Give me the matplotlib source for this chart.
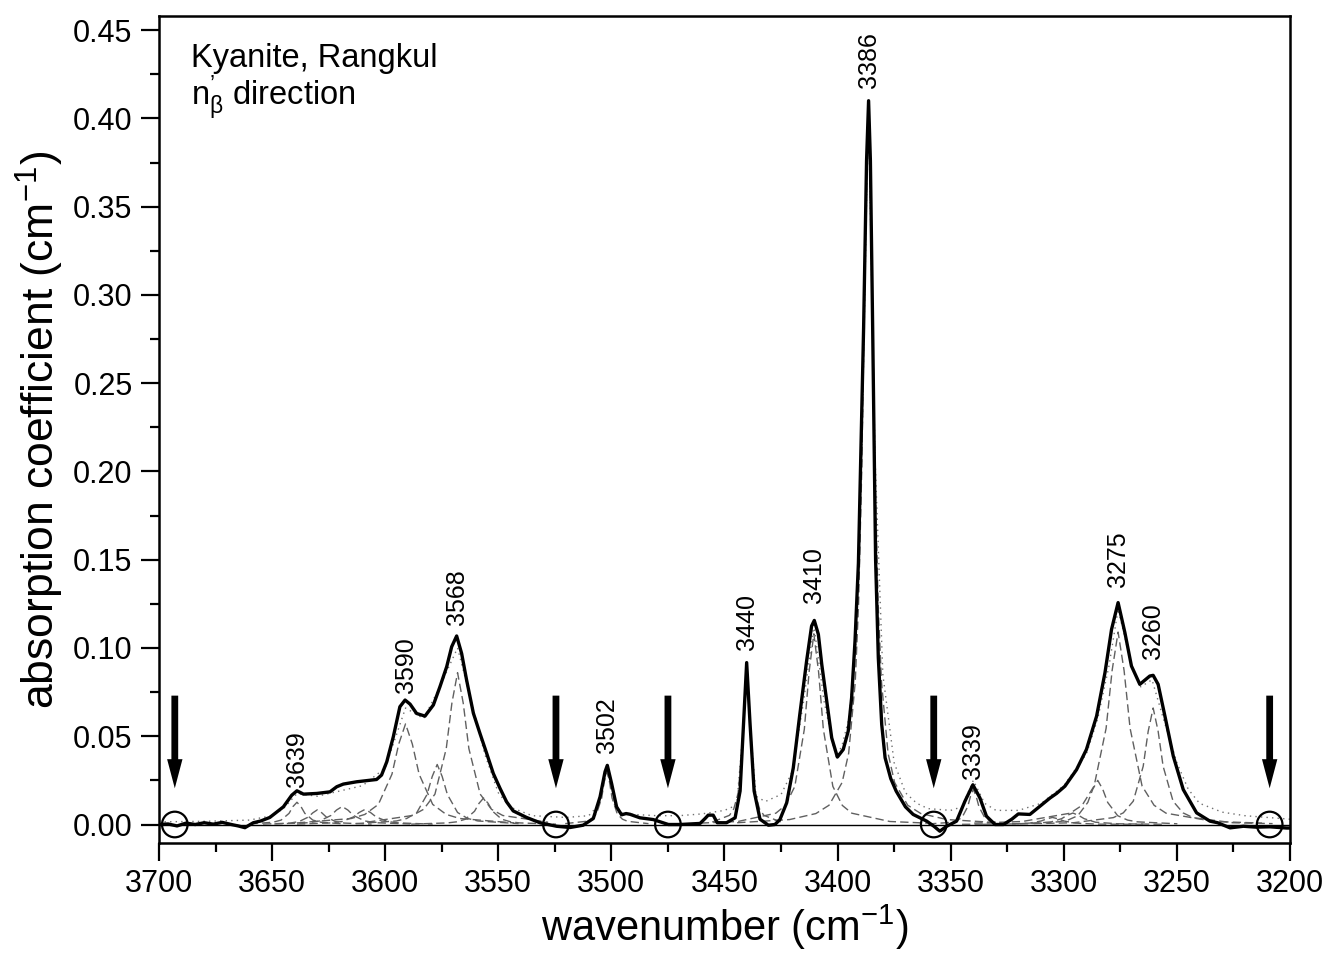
import matplotlib
matplotlib.use("Agg")
import matplotlib.pyplot as plt
from matplotlib.patches import FancyArrow
from matplotlib.ticker import MultipleLocator, FormatStrFormatter

plt.rcParams['font.family'] = ['Liberation Sans', 'DejaVu Sans']
plt.rcParams['mathtext.fontset'] = 'custom'
plt.rcParams['mathtext.rm'] = 'Liberation Sans'
plt.rcParams['mathtext.it'] = 'Liberation Sans:italic'
plt.rcParams['mathtext.bf'] = 'Liberation Sans:bold'

spectrum = [
    (3700, 0.000), (3696, 0.0003), (3692, -0.0008), (3688, 0.0008), (3684, 0.0000),
    (3680, 0.0010), (3676, 0.0002), (3672, 0.0012), (3668, 0.0000), (3665, -0.0008),
    (3662, -0.0018), (3658.3, 0.0010), (3655, 0.0020), (3651, 0.0040), (3648, 0.0070),
    (3645, 0.0100), (3641.3, 0.0166), (3639, 0.0191), (3636.1, 0.0172), (3630.2, 0.0176),
    (3624.4, 0.0185), (3621.4, 0.0214), (3618.5, 0.0229), (3612.6, 0.0242), (3603.8, 0.0255),
    (3601.6, 0.0280), (3599.3, 0.0355), (3596.4, 0.0497), (3593.5, 0.0667), (3591.2, 0.0705),
    (3589, 0.0682), (3586.1, 0.0629), (3582.4, 0.0614), (3578.7, 0.0677), (3575.8, 0.0780),
    (3572.8, 0.0894), (3570.6, 0.1007), (3568.4, 0.1068), (3566.2, 0.0969), (3564.0, 0.0818),
    (3561, 0.0630), (3558.1, 0.0516), (3555.1, 0.0402), (3552.2, 0.0289), (3549.2, 0.0204),
    (3546.3, 0.0128), (3543.4, 0.0077), (3537.5, 0.0040), (3531.6, 0.0010), (3524.2, -0.0010),
    (3518.3, -0.0017), (3512.5, -0.0004), (3508, 0.0034), (3505, 0.0157), (3502.8, 0.0299),
    (3501.8, 0.0335), (3499.9, 0.0232), (3497.7, 0.0100), (3495.5, 0.0055), (3493.5, 0.0062),
    (3491.8, 0.0058), (3487.4, 0.0038), (3481.5, 0.0028), (3474.8, 0.0000), (3469.7, 0.0000),
    (3460.8, 0.0006), (3458.5, 0.0035), (3457.2, 0.0053), (3455, 0.0053), (3453.2, 0.0010),
    (3449.1, 0.0010), (3445.3, 0.0038), (3443.1, 0.0190), (3441.6, 0.0570), (3440.2, 0.0917),
    (3438.7, 0.0570), (3436.9, 0.0190), (3434.3, 0.0030), (3430.6, -0.0004), (3427.7, 0.0000),
    (3425.5, 0.0028), (3422.5, 0.0123), (3419.6, 0.0320), (3416.7, 0.0624), (3413.7, 0.0926),
    (3411.5, 0.1124), (3410.3, 0.1156), (3408.5, 0.1077), (3407, 0.0907), (3404.8, 0.0699),
    (3402.6, 0.0491), (3400.1, 0.0382), (3397.5, 0.0425), (3395.3, 0.0529), (3393.8, 0.0718),
    (3392.3, 0.1040), (3390.8, 0.1480), (3388.5, 0.2815), (3387.2, 0.3760), (3386.3, 0.4100),
    (3385.5, 0.3760), (3384.5, 0.2815), (3383.2, 0.1500), (3382, 0.0945), (3380.5, 0.0567),
    (3379, 0.0378), (3376.5, 0.0260), (3374.1, 0.0189), (3370, 0.0100), (3366.6, 0.0057),
    (3360.6, 0.0019), (3357.4, -0.0010), (3354.8, -0.0038), (3351.8, -0.0010), (3347.4, 0.0019),
    (3343.7, 0.0132), (3340.2, 0.0225), (3337.1, 0.0151), (3334.2, 0.0047), (3330.4, 0.0000),
    (3326.7, 0.0000), (3323, 0.0030), (3320.1, 0.0060), (3315, 0.0057), (3310.5, 0.0104),
    (3306.1, 0.0150), (3303.2, 0.0176), (3299.5, 0.0217), (3294.4, 0.0310), (3290, 0.0425),
    (3285.5, 0.0614), (3281.8, 0.0860), (3278.9, 0.1105), (3276, 0.1257), (3273, 0.1087),
    (3270.1, 0.0898), (3266.4, 0.0794), (3262, 0.0841), (3260.5, 0.0845), (3258.3, 0.0794),
    (3255.3, 0.0614), (3251.6, 0.0387), (3247.2, 0.0198), (3241.3, 0.0066), (3235.4, 0.0019),
    (3232, 0.0010), (3226.5, -0.0019), (3220.6, -0.0010), (3215, -0.0015), (3209, -0.0013),
    (3201.5, -0.0020), (3200, -0.0020),
]

# fitted sum (dotted)
fit_sum = [
    (3700, 0.0015), (3680, 0.0018), (3660, 0.0025), (3650, 0.005), (3645, 0.009),
    (3639, 0.0175), (3630, 0.016), (3620, 0.019), (3610, 0.022), (3600, 0.032),
    (3591, 0.066), (3583, 0.060), (3577, 0.075), (3568, 0.100), (3560, 0.060),
    (3556, 0.040), (3550, 0.018), (3545, 0.010), (3535, 0.005), (3520, 0.004),
    (3510, 0.005), (3505, 0.012), (3502, 0.032), (3499, 0.012), (3495, 0.006),
    (3480, 0.005), (3470, 0.005), (3460, 0.006), (3450, 0.008), (3444.6, 0.011),
    (3442, 0.050), (3440.2, 0.090), (3438.3, 0.050), (3436, 0.016), (3432, 0.013),
    (3425, 0.017), (3420, 0.030), (3415, 0.070), (3410.5, 0.113), (3406, 0.070),
    (3402, 0.045), (3400.5, 0.038), (3398, 0.045), (3395, 0.060), (3392, 0.100),
    (3389.3, 0.210), (3386.4, 0.408), (3383.5, 0.210), (3380, 0.085), (3375, 0.035),
    (3370, 0.018), (3365, 0.012), (3360, 0.009), (3350, 0.008), (3345, 0.010),
    (3340, 0.025), (3335, 0.012), (3330, 0.008), (3320, 0.008), (3310, 0.012),
    (3300, 0.022), (3290, 0.040), (3285, 0.060), (3280, 0.090), (3276, 0.122),
    (3270, 0.090), (3266, 0.078), (3261, 0.082), (3256, 0.060), (3250, 0.035),
    (3245, 0.020), (3240, 0.012), (3230, 0.007), (3220, 0.005), (3210, 0.004),
    (3200, 0.003),
]

# fitted components (dashed), read point by point
comp_3639 = [(3660, 0.0003), (3649.5, 0.0013), (3646, 0.0025), (3642.5, 0.0063), (3640.8, 0.0101),
             (3639, 0.0126), (3637.2, 0.0101), (3635.5, 0.0063), (3632, 0.0025), (3628.5, 0.0013), (3618, 0.0003)]
comp_3630 = [(3654, 0.0002), (3642, 0.0008), (3638, 0.0017), (3634, 0.0042), (3632, 0.0066),
             (3630, 0.0083), (3628, 0.0066), (3626, 0.0042), (3622, 0.0017), (3618, 0.0008), (3606, 0.0002)]
comp_3619 = [(3649, 0.0003), (3634, 0.0010), (3629, 0.0020), (3624, 0.0051), (3621.5, 0.0082),
             (3619, 0.0102), (3616.5, 0.0082), (3614, 0.0051), (3609, 0.0020), (3604, 0.0010), (3589, 0.0003)]
comp_3609 = [(3639, 0.0002), (3624, 0.0009), (3619, 0.0017), (3614, 0.0043), (3611.5, 0.0068),
             (3609, 0.0085), (3606.5, 0.0068), (3604, 0.0043), (3599, 0.0017), (3594, 0.0009), (3579, 0.0002)]
comp_3591 = [(3639, 0.0009), (3615, 0.0034), (3609, 0.0057), (3603, 0.0114), (3597, 0.0285), (3594, 0.0456),
             (3591, 0.0570), (3588, 0.0456), (3585, 0.0285), (3579, 0.0114), (3573, 0.0057), (3567, 0.0034), (3543, 0.0009)]
comp_3577 = [(3613, 0.0005), (3595, 0.0020), (3590.5, 0.0034), (3586, 0.0068), (3581.5, 0.0170), (3579.2, 0.0272),
             (3577, 0.0340), (3574.8, 0.0272), (3572.5, 0.0170), (3568, 0.0068), (3563.5, 0.0034), (3559, 0.0020), (3541, 0.0005)]
comp_3568 = [(3608, 0.0013), (3588, 0.0051), (3583, 0.0086), (3578, 0.0172), (3573, 0.0430), (3570.5, 0.0688),
             (3568, 0.0860), (3565.5, 0.0688), (3563, 0.0430), (3558, 0.0172), (3553, 0.0086), (3548, 0.0051), (3528, 0.0013)]
comp_3556 = [(3588.5, 0.0002), (3572.5, 0.0009), (3568.5, 0.0015), (3564.5, 0.0030), (3560.5, 0.0075), (3558.5, 0.0120),
             (3556.5, 0.0150), (3554.5, 0.0120), (3552.5, 0.0075), (3548.5, 0.0030), (3544.5, 0.0015), (3540.5, 0.0009), (3524.5, 0.0002)]
comp_3502 = [(3520.4, 0.0005), (3511.2, 0.0018), (3508.9, 0.0030), (3506.6, 0.0060), (3504.3, 0.0150), (3503.2, 0.0240),
             (3502, 0.0300), (3500.8, 0.0240), (3499.7, 0.0150), (3497.4, 0.0060), (3495.1, 0.0030), (3492.8, 0.0018), (3483.6, 0.0005)]
comp_3440 = [(3455.4, 0.0014), (3447.8, 0.0052), (3445.9, 0.0088), (3444, 0.0176), (3442.1, 0.0440), (3441.2, 0.0704),
             (3440.2, 0.0880), (3439.2, 0.0704), (3438.3, 0.0440), (3436.4, 0.0176), (3434.5, 0.0088), (3432.6, 0.0052), (3425, 0.0014)]
comp_3410 = [(3460.5, 0.0008), (3444.1, 0.0017), (3427.3, 0.0064), (3423.1, 0.0108), (3418.9, 0.0216), (3414.7, 0.0540),
             (3412.6, 0.0864), (3410.5, 0.1080), (3408.4, 0.0864), (3406.3, 0.0540), (3402.1, 0.0216), (3397.9, 0.0108),
             (3393.7, 0.0064), (3376.9, 0.0017), (3360.5, 0.0008)]
comp_3386 = [(3444.4, 0.0010), (3421.2, 0.0028), (3409.6, 0.0062), (3403.8, 0.0109), (3398, 0.0238), (3395.1, 0.0404),
             (3392.2, 0.0808), (3390.75, 0.1240), (3389.3, 0.2020), (3387.85, 0.3230), (3386.4, 0.4040), (3384.95, 0.3230),
             (3383.5, 0.2020), (3382.05, 0.1240), (3380.6, 0.0808), (3377.7, 0.0404), (3374.8, 0.0238), (3369, 0.0109),
             (3363.2, 0.0062), (3351.6, 0.0028), (3328.4, 0.0010)]
comp_3339 = [(3360, 0.0003), (3350, 0.0012), (3347.5, 0.0020), (3345, 0.0040), (3342.5, 0.0100), (3341.25, 0.0160),
             (3340, 0.0200), (3338.75, 0.0160), (3337.5, 0.0100), (3335, 0.0040), (3332.5, 0.0020), (3330, 0.0012), (3320, 0.0003)]
comp_3305 = [(3345, 0.0001), (3325, 0.0002), (3315, 0.0008), (3310, 0.0020), (3307.5, 0.0032),
             (3305, 0.0040), (3302.5, 0.0032), (3300, 0.0020), (3295, 0.0008), (3285, 0.0002), (3265, 0.0001)]
comp_3296 = [(3336, 0.0001), (3316, 0.0004), (3306, 0.0013), (3301, 0.0033), (3298.5, 0.0052),
             (3296, 0.0065), (3293.5, 0.0052), (3291, 0.0033), (3286, 0.0013), (3276, 0.0004), (3256, 0.0001)]
comp_3285 = [(3320.2, 0.0004), (3302.6, 0.0015), (3298.2, 0.0025), (3293.8, 0.0050), (3289.4, 0.0125), (3287.2, 0.0200),
             (3285, 0.0250), (3282.8, 0.0200), (3280.6, 0.0125), (3276.2, 0.0050), (3271.8, 0.0025), (3267.4, 0.0015), (3249.8, 0.0004)]
comp_3276 = [(3339.6, 0.0008), (3318.4, 0.0017), (3297.2, 0.0064), (3291.9, 0.0109), (3286.6, 0.0218), (3281.3, 0.0545),
             (3278.65, 0.0872), (3276, 0.1090), (3273.35, 0.0872), (3270.7, 0.0545), (3265.4, 0.0218), (3260.1, 0.0109),
             (3254.8, 0.0064), (3233.6, 0.0017), (3212.4, 0.0008)]
comp_3260 = [(3313.3, 0.0005), (3295.7, 0.0010), (3278.1, 0.0039), (3273.7, 0.0066), (3269.3, 0.0132), (3264.9, 0.0330),
             (3262.7, 0.0528), (3260.5, 0.0660), (3258.3, 0.0528), (3256.1, 0.0330), (3251.7, 0.0132), (3247.3, 0.0066),
             (3242.9, 0.0039), (3225.3, 0.0010), (3207.7, 0.0005)]

components = [comp_3639, comp_3630, comp_3619, comp_3609, comp_3591, comp_3577, comp_3568, comp_3556,
              comp_3502, comp_3440, comp_3410, comp_3386, comp_3339, comp_3305, comp_3296, comp_3285,
              comp_3276, comp_3260]

# labelled band positions and the height of the band maximum
band_labels = ['3639', '3590', '3568', '3502', '3440', '3410', '3386', '3339', '3275', '3260']
band_wn = [3639, 3591, 3568.4, 3501.8, 3440.2, 3410.5, 3386.3, 3340.2, 3276, 3260.5]
band_top = [0.0191, 0.0705, 0.1068, 0.0335, 0.0917, 0.1156, 0.4100, 0.0225, 0.1257, 0.0845]

# baseline anchor points (arrows + circles)
anchor_wn = [3693, 3524.5, 3475, 3357.5, 3209]


def main() -> None:
    fig = plt.figure(figsize=(13.28, 9.58), dpi=100)
    ax = fig.add_axes([0.1197, 0.1200, 0.8517, 0.8633])

    ax.axhline(0, color='black', lw=1.0, zorder=1)

    for comp in components:
        ax.plot([p[0] for p in comp], [p[1] for p in comp], color='#606060', lw=1.0,
                dashes=(6, 3), zorder=2)
    ax.plot([p[0] for p in fit_sum], [p[1] for p in fit_sum], color='#707070', lw=1.0,
            ls=(0, (1, 3)), zorder=2)
    ax.plot([p[0] for p in spectrum], [p[1] for p in spectrum], color='black', lw=2.4,
            solid_joinstyle='round', zorder=3)

    pads = [0.002, 0.004, 0.006, 0.007, 0.007, 0.010, 0.007, 0.003, 0.009, 0.009]
    for lab, wn, top, pad in zip(band_labels, band_wn, band_top, pads):
        ax.text(wn, top + pad, lab, rotation=90, ha='center', va='bottom', fontsize=18)

    for wn in anchor_wn:
        ax.add_patch(FancyArrow(wn, 0.073, 0, -0.0525, width=3.0, head_width=6.8,
                                head_length=0.0165, length_includes_head=True,
                                color='black', lw=0, zorder=4))
    ax.scatter(anchor_wn, [0] * len(anchor_wn), s=340, facecolors='none',
               edgecolors='black', linewidths=1.6, zorder=5)

    ax.text(3686, 0.429, 'Kyanite, Rangkul', fontsize=23.5, va='baseline', ha='left')
    ax.text(3686, 0.4073, '$\\mathrm{n}^{\\mathrm{\u2019}}_{\\mathrm{\u03b2}}$ direction',
            fontsize=23.5, va='baseline', ha='left')

    ax.set_xlim(3700, 3200)
    ax.set_ylim(-0.0105, 0.458)
    ax.xaxis.set_major_locator(MultipleLocator(50))
    ax.xaxis.set_minor_locator(MultipleLocator(25))
    ax.yaxis.set_major_locator(MultipleLocator(0.05))
    ax.yaxis.set_minor_locator(MultipleLocator(0.025))
    ax.yaxis.set_major_formatter(FormatStrFormatter('%.2f'))
    ax.tick_params(which='both', direction='out', width=1.6, top=False, right=False)
    ax.tick_params(which='major', length=13, labelsize=22, pad=6)
    ax.tick_params(which='minor', length=6.5)
    for s in ax.spines.values():
        s.set_linewidth(1.8)

    ax.set_xlabel(r'wavenumber (cm$^{-1}$)', fontsize=30, labelpad=2)
    ax.set_ylabel(r'absorption coefficient (cm$^{-1}$)', fontsize=32, labelpad=5)

    fig.savefig('out.png', dpi=100, facecolor='white')


if __name__ == '__main__':
    main()
